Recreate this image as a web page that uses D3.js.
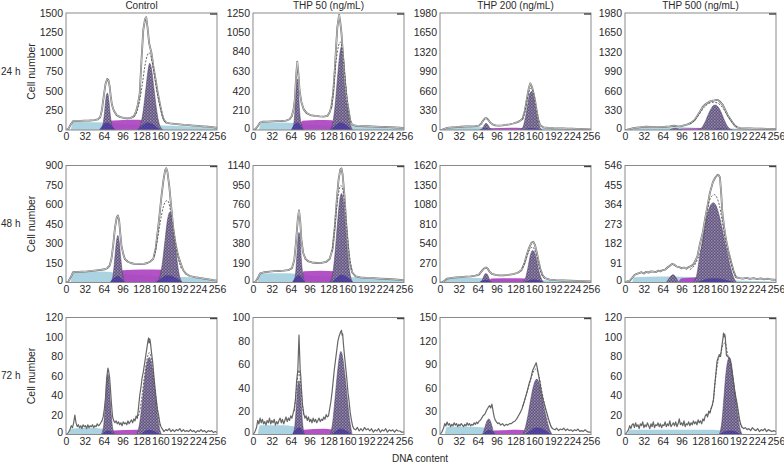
<!DOCTYPE html>
<html><head><meta charset="utf-8">
<script src="https://cdn.jsdelivr.net/npm/d3@7"></script>
<style>
body{margin:0;background:#fff}
text{font-family:"Liberation Sans",Arial,sans-serif;fill:#2a2a2a}
</style>
</head><body>
<svg id="c" width="784" height="465"></svg>
<script>
// ---------------- labels ----------------
const columnTitles = ["Control", "THP 50 (ng/mL)", "THP 200 (ng/mL)", "THP 500 (ng/mL)"];
const rowTitles = ["24 h", "48 h", "72 h"];
const xTicks = [0, 32, 64, 96, 128, 160, 192, 224, 256];
const yLabel = "Cell number";
const xLabel = "DNA content";

// ---------------- y tick labels per panel ----------------
const yTicksCtrl24 = [0, 250, 500, 750, 1000, 1250, 1500];
const yTicksT50_24 = [0, 210, 420, 630, 840, 1050, 1250];
const yTicksT200_24 = [0, 330, 660, 990, 1320, 1650, 1980];
const yTicksT500_24 = [0, 330, 660, 990, 1320, 1650, 1980];
const yTicksCtrl48 = [0, 150, 300, 450, 600, 750, 900];
const yTicksT50_48 = [0, 190, 380, 570, 760, 950, 1140];
const yTicksT200_48 = [0, 270, 540, 810, 1080, 1350, 1620];
const yTicksT500_48 = [0, 91, 182, 273, 364, 455, 546];
const yTicksCtrl72 = [0, 20, 40, 60, 80, 100, 120];
const yTicksT50_72 = [0, 20, 40, 60, 80, 100];
const yTicksT200_72 = [0, 30, 60, 90, 120, 150];
const yTicksT500_72 = [0, 20, 40, 60, 80, 100, 120];

// ---------------- Control 24 h ----------------
const ctrl24Raw = [[0,0],[4,15],[8,70],[12,112],[16,115],[24,118],[32,120],[40,122],[48,126],[54,135],[58,165],[61,260],[64,430],[67,590],[70,655],[72,640],[74,560],[76,420],[78,320],[81,250],[86,190],[92,165],[98,155],[104,150],[110,155],[115,175],[119,240],[122,330],[125,470],[128,897],[131,1282],[134,1420],[136,1445],[138,1330],[141,1111],[145,983],[148,820],[151,683],[155,500],[159,342],[163,200],[166,128],[170,95],[176,85],[184,78],[192,72],[200,66],[208,62],[216,57],[224,52],[232,47],[240,42],[248,37],[254,30],[256,25]];
const ctrl24Fit = [[115,170],[120,230],[125,380],[130,620],[134,830],[138,960],[141,990],[144,940],[148,790],[152,600],[156,420],[160,280],[164,160],[168,100]];
const ctrl24G1 = [[58,0],[62,50],[65,200],[67,360],[69,460],[70,472],[71,460],[73,360],[75,200],[78,50],[82,0]];
const ctrl24G2 = [[122,0],[127,80],[131,250],[135,500],[139,760],[142,855],[145,780],[149,540],[153,290],[157,110],[161,25],[165,0]];
const ctrl24S = [[66,0],[72,118],[90,126],[115,130],[132,126],[140,0]];
const ctrl24Deb = [[8,0],[12,100],[20,104],[40,100],[60,96],[80,85],[100,75],[130,65],[160,58],[200,48],[240,35],[256,28]];
const ctrl24Blue = [[56,0],[70,95],[86,0],[118,0],[138,95],[160,0]];

// ---------------- THP 50, 24 h ----------------
const t50_24Raw = [[0,0],[4,10],[8,40],[12,80],[16,88],[24,90],[32,92],[40,94],[48,96],[56,100],[62,115],[66,150],[69,230],[71,330],[73,560],[75,730],[77,600],[79,420],[82,300],[86,220],[91,180],[97,160],[105,150],[113,145],[120,142],[126,150],[130,190],[133,250],[136,400],[139,676],[141,900],[143,1100],[146,1229],[148,1150],[150,1033],[153,760],[156,500],[159,330],[162,214],[165,100],[168,55],[176,45],[184,42],[192,40],[200,38],[208,36],[216,34],[224,32],[232,30],[240,28],[248,25],[254,22],[256,20]];
const t50_24Fit = [[133,230],[137,450],[141,740],[145,900],[148,940],[151,880],[154,680],[158,420],[162,200],[166,80]];
const t50_24G1 = [[66,0],[69,60],[71,200],[73,420],[75,545],[77,430],[79,200],[82,60],[85,0]];
const t50_24G2 = [[130,0],[135,70],[139,250],[143,540],[147,800],[150,890],[153,800],[157,500],[161,220],[165,60],[169,0]];
const t50_24S = [[78,0],[84,100],[110,107],[134,105],[142,0]];
const t50_24Deb = [[10,0],[14,75],[30,80],[60,78],[80,65],[110,50],[160,42],[200,38],[240,30],[256,25]];
const t50_24Blue = [[64,0],[75,80],[88,0],[128,0],[148,80],[168,0]];

// ---------------- THP 200, 24 h ----------------
const t200_24Raw = [[0,0],[4,5],[8,20],[12,35],[20,45],[28,50],[36,55],[44,60],[52,62],[60,65],[66,75],[70,110],[73,160],[76,195],[79,200],[82,170],[85,130],[89,95],[94,80],[100,75],[106,78],[112,85],[118,95],[124,110],[130,130],[135,150],[140,190],[144,330],[147,508],[150,680],[153,790],[156,730],[159,600],[161,508],[164,320],[167,160],[170,80],[175,45],[184,35],[192,30],[200,28],[208,26],[216,24],[224,22],[232,20],[240,18],[248,16],[256,12]];
const t200_24Fit = [[140,180],[144,310],[148,520],[152,680],[155,710],[158,640],[161,470],[165,250],[169,100]];
const t200_24G1 = [[68,0],[72,30],[75,80],[78,113],[81,90],[84,40],[88,0]];
const t200_24G2 = [[136,0],[141,60],[145,220],[149,450],[152,610],[155,650],[158,590],[161,420],[165,190],[169,50],[173,0]];
const t200_24S = [[80,0],[86,30],[120,38],[140,35],[148,0]];
const t200_24Deb = [[8,0],[12,35],[30,45],[60,50],[80,40],[120,30],[170,28],[220,20],[256,12]];
const t200_24Blue = [[66,0],[78,30],[90,0],[135,0],[155,35],[175,0]];

// ---------------- THP 500, 24 h ----------------
const t500_24Raw = [[0,0],[4,5],[8,15],[14,30],[20,40],[28,50],[36,55],[44,52],[52,48],[60,50],[68,55],[76,62],[80,68],[84,72],[88,65],[94,62],[100,80],[106,95],[112,120],[118,170],[122,230],[127,310],[132,395],[137,440],[143,480],[148,495],[152,500],[155,508],[158,505],[162,470],[166,420],[170,340],[174,250],[178,190],[182,130],[186,75],[190,45],[196,32],[204,28],[212,26],[220,24],[230,22],[240,20],[250,18],[256,15]];
const t500_24Fit = [[110,100],[118,160],[126,270],[134,380],[142,450],[150,470],[156,460],[162,420],[168,340],[174,240],[180,150],[186,80],[192,40]];
const t500_24G1 = [[76,0],[82,25],[86,30],[90,20],[96,0]];
const t500_24G2 = [[124,0],[130,40],[136,140],[141,260],[146,360],[150,415],[153,423],[157,400],[162,320],[167,200],[172,90],[177,25],[182,0]];
const t500_24S = [[90,0],[96,25],[130,35],[150,30],[160,0]];
const t500_24Deb = [[8,0],[12,30],[40,45],[80,45],[120,40],[160,30],[200,22],[256,12]];
const t500_24Blue = [[140,0],[160,25],[185,0]];

// ---------------- Control 48 h ----------------
const ctrl48Raw = [[0,0],[4,8],[8,40],[12,79],[20,82],[28,84],[36,86],[44,90],[52,94],[60,98],[66,102],[70,110],[74,130],[77,180],[80,285],[83,420],[86,500],[88,515],[90,480],[92,380],[94,285],[97,220],[100,180],[105,160],[110,150],[116,144],[124,142],[132,144],[138,150],[143,162],[148,182],[152,260],[156,413],[159,540],[162,669],[165,780],[168,862],[170,879],[172,850],[175,746],[178,600],[182,413],[186,290],[190,208],[195,140],[199,92],[204,65],[210,50],[218,41],[226,35],[234,30],[242,24],[250,18],[256,15]];
const ctrl48Fit = [[150,200],[155,330],[160,470],[165,580],[169,625],[172,631],[176,580],[180,460],[185,310],[190,190],[196,100]];
const ctrl48G1 = [[76,0],[80,60],[83,200],[86,330],[88,362],[90,320],[93,180],[96,60],[99,0]];
const ctrl48G2 = [[154,0],[160,60],[164,170],[168,330],[172,480],[176,541],[180,480],[184,340],[188,180],[192,60],[197,0]];
const ctrl48S = [[90,0],[96,95],[130,100],[165,98],[176,0]];
const ctrl48Deb = [[8,0],[12,82],[40,85],[70,82],[90,70],[130,55],[180,45],[210,40],[240,25],[256,18]];
const ctrl48Blue = [[74,0],[88,50],[102,0],[148,0],[172,55],[198,0]];

// ---------------- THP 50, 48 h ----------------
const t50_48Raw = [[0,0],[4,8],[8,40],[12,90],[20,100],[28,105],[36,110],[44,112],[52,115],[60,120],[66,140],[70,220],[73,400],[76,620],[78,702],[80,600],[82,420],[85,290],[89,230],[94,205],[100,195],[108,190],[116,192],[124,200],[130,230],[135,330],[139,560],[142,800],[145,1000],[148,1100],[150,1111],[152,1050],[155,850],[158,580],[161,360],[164,200],[168,100],[174,60],[182,50],[192,45],[204,42],[216,38],[228,34],[240,30],[250,25],[256,20]];
const t50_48Fit = [[134,300],[138,500],[142,740],[146,900],[149,945],[152,910],[156,720],[160,450],[164,230],[168,110]];
const t50_48G1 = [[68,0],[72,80],[75,320],[77,470],[78,487],[80,420],[82,220],[85,60],[88,0]];
const t50_48G2 = [[130,0],[135,80],[139,280],[143,560],[147,800],[150,867],[153,800],[157,520],[161,240],[165,70],[169,0]];
const t50_48S = [[80,0],[86,110],[115,115],[140,110],[148,0]];
const t50_48Deb = [[8,0],[12,85],[30,90],[60,90],[80,75],[120,60],[170,50],[220,40],[256,25]];
const t50_48Blue = [[66,0],[78,70],[90,0],[130,0],[150,75],[170,0]];

// ---------------- THP 200, 48 h ----------------
const t200_48Raw = [[0,0],[4,5],[8,25],[12,55],[20,65],[28,70],[36,75],[44,80],[52,85],[60,95],[66,110],[70,150],[74,190],[78,208],[81,190],[84,150],[88,120],[94,105],[100,100],[108,100],[116,105],[124,115],[132,135],[138,170],[143,260],[147,380],[151,480],[155,550],[158,565],[161,520],[164,420],[167,300],[170,190],[174,100],[178,60],[186,40],[196,32],[208,28],[220,25],[232,22],[244,20],[256,15]];
const t200_48Fit = [[140,200],[145,300],[150,420],[154,480],[157,490],[160,460],[164,360],[168,230],[172,120],[176,60]];
const t200_48G1 = [[68,0],[72,40],[75,100],[78,125],[81,100],[84,40],[88,0]];
const t200_48G2 = [[140,0],[145,60],[149,200],[153,370],[157,443],[160,420],[164,300],[168,150],[172,50],[176,0]];
const t200_48S = [[82,0],[88,55],[120,60],[145,55],[152,0]];
const t200_48Deb = [[8,0],[12,55],[40,65],[70,60],[100,45],[150,35],[200,28],[256,15]];
const t200_48Blue = [[66,0],[78,40],[90,0],[138,0],[158,45],[178,0]];

// ---------------- THP 500, 48 h ----------------
const t500_48Raw = [[0,0],[4,5],[8,8],[12,20],[16,35],[20,40],[24,44],[28,48],[32,42],[36,50],[40,46],[44,52],[48,51],[52,48],[56,55],[60,52],[64,58],[68,60],[72,70],[76,78],[80,87],[84,82],[88,74],[92,72],[96,66],[100,70],[104,64],[108,72],[112,76],[116,85],[120,105],[123,126],[127,180],[132,235],[136,300],[140,359],[144,420],[149,468],[153,490],[157,503],[159,500],[161,490],[163,420],[165,328],[168,260],[171,204],[175,150],[180,95],[184,55],[188,25],[194,20],[200,18],[206,22],[212,17],[218,20],[224,16],[230,19],[236,15],[242,18],[248,14],[256,12]];
const t500_48Fit = [[110,60],[120,90],[126,130],[132,190],[138,300],[143,380],[148,405],[152,410],[156,395],[160,360],[164,300],[168,230],[172,170],[178,110],[184,50],[190,20]];
const t500_48G1 = [[70,0],[75,20],[80,35],[82,36],[86,25],[91,0]];
const t500_48G2 = [[116,0],[122,40],[126,110],[131,190],[136,270],[141,330],[146,365],[150,372],[154,360],[159,320],[164,260],[169,190],[174,130],[179,70],[184,25],[189,0]];
const t500_48S = [[90,0],[96,20],[140,25],[170,20],[178,0]];
const t500_48Deb = [[12,0],[16,25],[60,28],[100,27],[128,25],[150,15],[200,8],[256,5]];
const t500_48Blue = [[120,0],[150,20],[188,0]];

// ---------------- Control 72 h ----------------
const ctrl72Raw = [[0,0],[3,1],[6,4],[9,9],[11,7],[13,12],[15,20],[17,12],[19,8],[21,10],[23,7],[25,9],[27,6],[29,10],[31,8],[33,9],[35,6],[37,10],[39,7],[41,9],[43,8],[45,10],[47,7],[49,9],[51,8],[53,11],[55,9],[57,10],[59,12],[61,14],[63,18],[65,26],[67,38],[69,58],[71,68],[72,66],[74,58],[75,50],[77,32],[79,18],[81,14],[83,12],[85,14],[87,11],[89,13],[91,10],[93,12],[95,9],[97,13],[99,11],[101,12],[103,10],[105,14],[107,11],[109,13],[111,15],[113,12],[115,16],[117,14],[119,19],[121,17],[123,28],[125,40],[127,48],[129,58],[131,64],[133,72],[135,80],[137,88],[139,96],[140,99],[141,94],[142,98],[143,95],[145,84],[147,74],[149,60],[151,47],[153,36],[155,26],[157,20],[159,12],[161,8],[163,6],[166,3],[169,5],[172,4],[175,6],[178,3],[181,5],[184,3],[187,5],[190,4],[193,6],[196,3],[199,5],[202,3],[205,4],[208,3],[211,5],[214,3],[217,4],[220,2],[223,4],[226,3],[229,5],[232,3],[235,4],[238,2],[241,4],[244,3],[247,4],[250,2],[253,3],[256,2]];
const ctrl72Fit = [[120,16],[125,24],[129,40],[133,60],[137,76],[141,84],[144,80],[148,62],[152,40],[156,20],[160,8]];
const ctrl72G1 = [[60,0],[64,10],[67,35],[69,55],[71,62],[73,55],[75,35],[78,12],[82,0]];
const ctrl72G2 = [[120,0],[125,12],[129,32],[133,55],[137,72],[141,79],[144,75],[148,58],[152,36],[156,15],[160,3],[162,0]];
const ctrl72S = [[74,0],[80,4],[120,5],[135,4],[142,0]];
const ctrl72Deb = [[5,0],[8,6],[40,7],[62,6],[75,3],[90,1],[120,0]];
const ctrl72Blue = [[60,0],[72,4],[84,0],[122,0],[140,5],[160,0]];

// ---------------- THP 50, 72 h ----------------
const t50_72Raw = [[0,0],[3,2],[6,6],[8,12],[10,9],[12,14],[14,10],[16,13],[18,9],[20,11],[22,8],[24,12],[26,10],[28,14],[30,9],[32,12],[34,10],[36,13],[38,8],[40,11],[42,9],[44,12],[46,14],[48,10],[50,13],[52,9],[54,12],[56,15],[58,11],[60,14],[62,12],[64,16],[66,14],[68,18],[70,22],[72,30],[74,46],[76,55],[77,70],[78,85],[79,70],[80,55],[81,50],[82,40],[84,25],[86,18],[88,14],[90,16],[92,12],[94,15],[96,11],[98,13],[100,10],[102,14],[104,11],[106,13],[108,10],[110,12],[112,14],[114,11],[116,13],[118,12],[120,15],[122,13],[124,17],[126,15],[128,16],[130,22],[132,28],[134,36],[136,46],[138,56],[140,64],[142,72],[144,80],[146,84],[148,87],[150,89],[151,85],[152,86],[153,79],[155,68],[157,58],[159,48],[161,36],[163,28],[165,18],[167,12],[169,7],[171,5],[174,4],[177,6],[180,3],[183,5],[186,3],[189,6],[192,4],[195,5],[198,3],[201,5],[204,2],[207,4],[210,3],[213,5],[216,2],[219,4],[222,3],[225,5],[228,2],[231,4],[234,3],[237,4],[240,2],[243,4],[246,3],[249,3],[252,2],[256,2]];
const t50_72Fit = [[70,20],[73,35],[76,50],[78,55],[80,48],[83,30],[86,16]];
const t50_72G1 = [[68,0],[71,8],[74,28],[76,42],[78,46],[80,40],[82,24],[84,10],[87,0]];
const t50_72G2 = [[131,0],[135,10],[139,30],[143,52],[147,68],[149,71],[152,66],[156,50],[160,30],[164,12],[168,0]];
const t50_72S = [[80,0],[86,4],[120,5],[135,4],[142,0]];
const t50_72Deb = [[8,0],[12,8],[50,8],[68,7],[80,3],[95,0]];
const t50_72Blue = [[66,0],[78,6],[90,0],[130,0],[148,5],[168,0]];

// ---------------- THP 200, 72 h ----------------
const t200_72Raw = [[0,0],[3,3],[6,8],[8,14],[10,11],[12,16],[14,12],[16,14],[18,10],[20,13],[22,11],[24,15],[26,12],[28,14],[30,10],[32,13],[34,11],[36,14],[38,12],[40,10],[42,13],[44,11],[46,15],[48,12],[50,14],[52,11],[54,13],[56,12],[58,15],[60,13],[62,16],[64,14],[66,17],[68,18],[70,20],[73,24],[76,26],[79,31],[82,35],[84,37],[86,34],[88,39],[90,30],[92,22],[94,18],[96,16],[98,14],[100,15],[103,12],[106,14],[109,11],[112,13],[115,12],[118,14],[121,14],[124,16],[127,17],[130,20],[133,24],[136,28],[139,33],[142,40],[145,48],[148,56],[151,65],[154,72],[157,82],[160,87],[162,90],[163,92],[165,85],[167,76],[170,64],[172,54],[175,44],[178,36],[181,28],[184,20],[187,13],[189,9],[192,7],[195,6],[198,8],[201,5],[204,7],[207,6],[210,8],[213,5],[216,7],[219,5],[222,6],[225,4],[228,6],[231,5],[234,7],[237,4],[240,5],[243,4],[246,6],[249,4],[252,3],[256,3]];
const t200_72Fit = [[140,36],[146,50],[152,66],[158,80],[163,84],[167,78],[172,58],[178,36],[184,18],[190,8]];
const t200_72G1 = [[72,0],[75,6],[78,14],[81,19],[83,20],[86,16],[89,8],[92,0]];
const t200_72G2 = [[140,0],[145,10],[150,28],[155,50],[160,66],[164,71],[167,68],[171,56],[175,40],[180,22],[185,8],[190,0]];
const t200_72S = [[86,0],[92,5],[130,6],[148,5],[155,0]];
const t200_72Deb = [[8,0],[12,10],[50,10],[75,9],[90,4],[105,0]];
const t200_72Blue = [[72,0],[84,6],[96,0],[140,0],[164,9],[190,0]];

// ---------------- THP 500, 72 h ----------------
const t500_72Raw = [[0,0],[3,2],[6,5],[8,9],[10,6],[12,10],[14,11],[16,7],[18,12],[20,8],[22,10],[24,6],[26,11],[28,9],[30,13],[32,7],[34,10],[36,8],[38,12],[40,9],[42,6],[44,11],[46,8],[48,13],[50,7],[52,10],[54,9],[56,12],[58,8],[60,11],[62,7],[64,10],[66,9],[68,13],[70,8],[72,11],[74,9],[76,14],[78,8],[80,10],[82,12],[84,9],[86,13],[88,8],[90,11],[92,16],[94,10],[96,12],[98,9],[100,14],[102,8],[104,11],[106,10],[108,13],[110,9],[112,12],[114,10],[116,14],[118,11],[120,13],[122,10],[124,15],[126,12],[128,14],[130,11],[132,16],[134,14],[136,19],[138,21],[140,18],[142,24],[144,22],[146,27],[148,30],[150,36],[152,50],[154,62],[156,75],[158,79],[160,82],[162,80],[164,90],[166,98],[167,104],[168,100],[169,103],[170,100],[171,90],[172,81],[174,80],[176,79],[178,76],[180,70],[182,62],[184,54],[186,45],[188,38],[190,32],[192,24],[194,16],[196,11],[198,8],[201,6],[204,7],[207,5],[210,6],[213,4],[216,7],[219,5],[222,4],[225,6],[228,3],[231,5],[234,4],[237,6],[240,3],[243,5],[246,4],[249,3],[252,4],[256,3]];
const t500_72Fit = [[140,20],[146,26],[150,36],[154,60],[158,76],[162,82],[166,92],[170,94],[174,82],[178,76],[182,62],[186,44],[190,28],[194,14],[198,7]];
const t500_72G1 = [];
const t500_72G2 = [[160,0],[164,12],[168,40],[171,62],[174,75],[177,79],[180,74],[183,60],[187,40],[191,20],[195,6],[199,0]];
const t500_72S = [];
const t500_72Deb = [[4,0],[8,5],[60,5],[120,5],[150,5],[162,4],[170,0]];
const t500_72Blue = [[158,0],[178,4],[198,0]];

// ---------------- assemble panels (table for drawing) ----------------
const panels = [
  {r:0,c:0,ticks:yTicksCtrl24,raw:ctrl24Raw,fit:ctrl24Fit,g1:ctrl24G1,g2:ctrl24G2,s:ctrl24S,deb:ctrl24Deb,blue:ctrl24Blue},
  {r:0,c:1,ticks:yTicksT50_24,raw:t50_24Raw,fit:t50_24Fit,g1:t50_24G1,g2:t50_24G2,s:t50_24S,deb:t50_24Deb,blue:t50_24Blue},
  {r:0,c:2,ticks:yTicksT200_24,raw:t200_24Raw,fit:t200_24Fit,g1:t200_24G1,g2:t200_24G2,s:t200_24S,deb:t200_24Deb,blue:t200_24Blue},
  {r:0,c:3,ticks:yTicksT500_24,raw:t500_24Raw,fit:t500_24Fit,g1:t500_24G1,g2:t500_24G2,s:t500_24S,deb:t500_24Deb,blue:t500_24Blue},
  {r:1,c:0,ticks:yTicksCtrl48,raw:ctrl48Raw,fit:ctrl48Fit,g1:ctrl48G1,g2:ctrl48G2,s:ctrl48S,deb:ctrl48Deb,blue:ctrl48Blue},
  {r:1,c:1,ticks:yTicksT50_48,raw:t50_48Raw,fit:t50_48Fit,g1:t50_48G1,g2:t50_48G2,s:t50_48S,deb:t50_48Deb,blue:t50_48Blue},
  {r:1,c:2,ticks:yTicksT200_48,raw:t200_48Raw,fit:t200_48Fit,g1:t200_48G1,g2:t200_48G2,s:t200_48S,deb:t200_48Deb,blue:t200_48Blue},
  {r:1,c:3,ticks:yTicksT500_48,raw:t500_48Raw,fit:t500_48Fit,g1:t500_48G1,g2:t500_48G2,s:t500_48S,deb:t500_48Deb,blue:t500_48Blue},
  {r:2,c:0,ticks:yTicksCtrl72,raw:ctrl72Raw,fit:ctrl72Fit,g1:ctrl72G1,g2:ctrl72G2,s:ctrl72S,deb:ctrl72Deb,blue:ctrl72Blue},
  {r:2,c:1,ticks:yTicksT50_72,raw:t50_72Raw,fit:t50_72Fit,g1:t50_72G1,g2:t50_72G2,s:t50_72S,deb:t50_72Deb,blue:t50_72Blue},
  {r:2,c:2,ticks:yTicksT200_72,raw:t200_72Raw,fit:t200_72Fit,g1:t200_72G1,g2:t200_72G2,s:t200_72S,deb:t200_72Deb,blue:t200_72Blue},
  {r:2,c:3,ticks:yTicksT500_72,raw:t500_72Raw,fit:t500_72Fit,g1:t500_72G1,g2:t500_72G2,s:t500_72S,deb:t500_72Deb,blue:t500_72Blue}
];

// ---------------- layout ----------------
const colLeft = [66, 253, 440, 625];
const rowTop = [13, 165.5, 317.5];
const W = 151, H = 117;
const FS = 10.5;

const svg = d3.select("#c");
const defs = svg.append("defs");
const pat = defs.append("pattern").attr("id","chk").attr("width",3).attr("height",3).attr("patternUnits","userSpaceOnUse");
pat.append("rect").attr("width",3).attr("height",3).attr("fill","#5f5079");
pat.append("rect").attr("width",1.5).attr("height",1.5).attr("fill","#9a90b2");
pat.append("rect").attr("x",1.5).attr("y",1.5).attr("width",1.5).attr("height",1.5).attr("fill","#8a7fa3");

panels.forEach((p,i) => {
  const x0 = colLeft[p.c], y0 = rowTop[p.r];
  const x = d3.scaleLinear().domain([0,256]).range([x0, x0+W]);
  const yMax = p.ticks[p.ticks.length-1];
  const y = d3.scaleLinear().domain([0,yMax]).range([y0+H, y0]);

  const cid = "clip"+i;
  defs.append("clipPath").attr("id",cid).append("rect")
    .attr("x",x0).attr("y",y0).attr("width",W).attr("height",H);
  const g = svg.append("g").attr("clip-path",`url(#${cid})`);

  const area = d3.area().x(d=>x(d[0])).y0(y(0)).y1(d=>y(d[1])).curve(d3.curveMonotoneX);
  const line = d3.line().x(d=>x(d[0])).y(d=>y(d[1]));

  if (p.deb.length) g.append("path").attr("d",area(p.deb)).attr("fill","#abd3e1");
  if (p.s.length) g.append("path").attr("d",area(p.s)).attr("fill","#ab3fbf").attr("opacity",0.9);
  if (p.g1.length) g.append("path").attr("d",area(p.g1)).attr("fill","url(#chk)").attr("stroke","#4a3d62").attr("stroke-width",0.5);
  if (p.g2.length) g.append("path").attr("d",area(p.g2)).attr("fill","url(#chk)").attr("stroke","#4a3d62").attr("stroke-width",0.5);
  if (p.blue.length) g.append("path").attr("d",area(p.blue)).attr("fill","#3d2fa0").attr("opacity",0.7);

  const lw = p.r === 2 ? 1.2 : 1.8;
  g.append("path").attr("d",line(p.raw)).attr("fill","none").attr("stroke","#666").attr("stroke-width",lw).attr("stroke-linejoin","round");
  if (p.r !== 2) g.append("path").attr("d",line(p.raw)).attr("fill","none").attr("stroke","#fff").attr("stroke-width",0.6).attr("stroke-linejoin","round");
  if (p.fit.length) g.append("path").attr("d",d3.line().x(d=>x(d[0])).y(d=>y(d[1])).curve(d3.curveMonotoneX)(p.fit))
    .attr("fill","none").attr("stroke","#555").attr("stroke-width",0.9).attr("stroke-dasharray","2,1.5");

  // frame
  svg.append("rect").attr("x",x0).attr("y",y0).attr("width",W).attr("height",H)
    .attr("fill","none").attr("stroke","#8a8a8a").attr("stroke-width",1);
  svg.append("line").attr("x1",x0+W-7).attr("x2",x0+W).attr("y1",y0+1).attr("y2",y0+1)
    .attr("stroke","#444").attr("stroke-width",1.4);

  // axes
  const ya = svg.append("g").attr("transform",`translate(${x0},0)`)
    .call(d3.axisLeft(y).tickValues(p.ticks).tickSize(0).tickPadding(3).tickFormat(d3.format("d")));
  const xa = svg.append("g").attr("transform",`translate(0,${y0+H})`)
    .call(d3.axisBottom(x).tickValues(xTicks).tickSize(0).tickPadding(3).tickFormat(d3.format("d")));
  [ya,xa].forEach(a => {
    a.select(".domain").remove();
    a.selectAll("text").attr("font-size",FS).attr("font-family","Liberation Sans, Arial, sans-serif").attr("fill","#2a2a2a");
  });
  ya.selectAll(".tick").filter(d=>d===0).select("text").attr("dy","0.1em");
});

// column titles
columnTitles.forEach((t,c) => {
  svg.append("text").attr("x",colLeft[c]+W/2).attr("y",8.5).attr("text-anchor","middle")
    .attr("font-size",10).text(t);
});
// row titles and y label
rowTitles.forEach((t,r) => {
  const cy = rowTop[r]+H/2;
  svg.append("text").attr("x",1).attr("y",cy+3).attr("font-size",10).text(t);
  svg.append("text").attr("transform",`translate(35,${cy}) rotate(-90)`).attr("text-anchor","middle")
    .attr("font-size",10.5).text(yLabel);
});
svg.append("text").attr("x",420).attr("y",462).attr("text-anchor","middle").attr("font-size",10).text(xLabel);
</script>
</body></html>
